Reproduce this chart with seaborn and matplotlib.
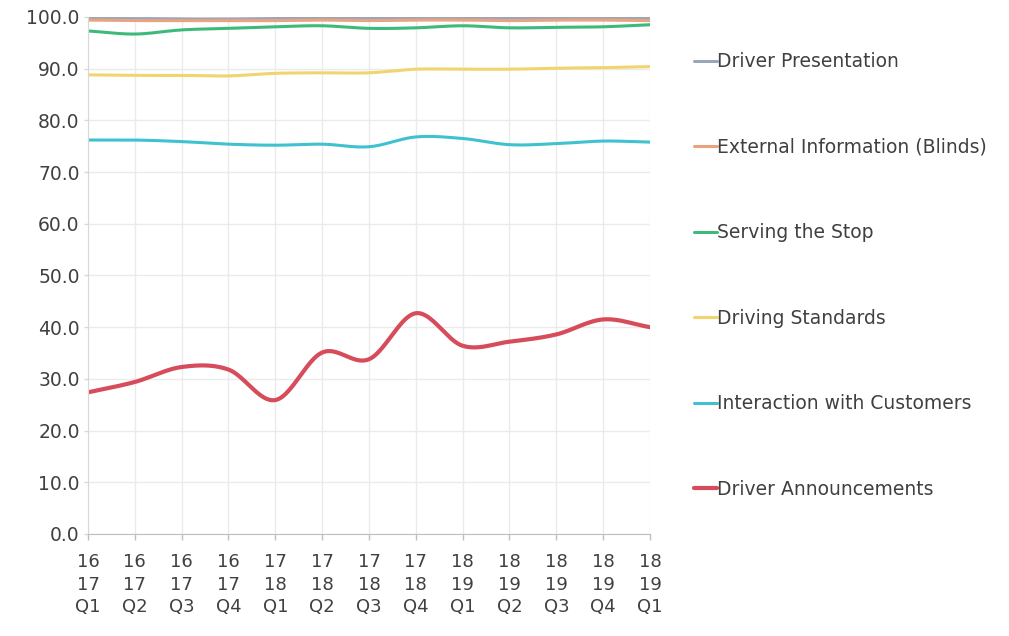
import matplotlib.pyplot as plt
import numpy as np
import pandas as pd
import seaborn as sns

QUARTERS = [
    "16\n17\nQ1", "16\n17\nQ2", "16\n17\nQ3", "16\n17\nQ4",
    "17\n18\nQ1", "17\n18\nQ2", "17\n18\nQ3", "17\n18\nQ4",
    "18\n19\nQ1", "18\n19\nQ2", "18\n19\nQ3", "18\n19\nQ4",
    "18\n19\nQ1",
]

driver_presentation = [99.7, 99.7, 99.6, 99.6, 99.7, 99.7, 99.7, 99.7, 99.7, 99.7, 99.7, 99.7, 99.7]
external_information = [99.4, 99.3, 99.3, 99.3, 99.3, 99.4, 99.3, 99.4, 99.4, 99.3, 99.4, 99.4, 99.3]
serving_the_stop = [97.3, 96.7, 97.5, 97.8, 98.1, 98.3, 97.8, 97.9, 98.3, 97.9, 98.0, 98.1, 98.5]
driving_standards = [88.8, 88.7, 88.7, 88.6, 89.1, 89.2, 89.2, 89.9, 89.9, 89.9, 90.1, 90.2, 90.4]
interaction_customers = [76.2, 76.2, 75.9, 75.4, 75.2, 75.4, 74.9, 76.8, 76.5, 75.3, 75.5, 76.0, 75.8]
driver_announcements = [27.4, 29.4, 32.3, 31.8, 25.9, 35.1, 33.8, 42.7, 36.4, 37.2, 38.6, 41.5, 40.0]

LABELS = [
    "Driver Presentation",
    "External Information (Blinds)",
    "Serving the Stop",
    "Driving Standards",
    "Interaction with Customers",
    "Driver Announcements",
]
VALUES = [
    driver_presentation,
    external_information,
    serving_the_stop,
    driving_standards,
    interaction_customers,
    driver_announcements,
]
COLORS = ["#9ba6bb", "#e9a37f", "#3dba7a", "#f2d46e", "#3fc1cf", "#d64c5a"]
WIDTHS = [2.2, 2.2, 2.2, 2.2, 2.2, 3.0]


def smooth(values, steps=24):
    # Excel-style smoothed line: cubic Hermite through each point
    y = np.asarray(values, dtype=float)
    n = len(y)
    tan = np.empty(n)
    tan[1:-1] = (y[2:] - y[:-2]) / 2
    tan[0] = y[1] - y[0]
    tan[-1] = y[-1] - y[-2]
    xs, ys = [], []
    s = np.linspace(0, 1, steps, endpoint=False)
    h00 = 2 * s**3 - 3 * s**2 + 1
    h10 = s**3 - 2 * s**2 + s
    h01 = -2 * s**3 + 3 * s**2
    h11 = s**3 - s**2
    for i in range(n - 1):
        xs.extend(i + s)
        ys.extend(h00 * y[i] + h10 * tan[i] + h01 * y[i + 1] + h11 * tan[i + 1])
    xs.append(n - 1)
    ys.append(y[-1])
    return np.array(xs), np.array(ys)


sns.set_style("white")
plt.rcParams["font.family"] = ["DejaVu Sans"]

fig = plt.figure(figsize=(10.09, 6.36), dpi=100)
ax = fig.add_axes([0.0872, 0.1604, 0.557, 0.8129])

for label, vals, color, lw in zip(LABELS, VALUES, COLORS, WIDTHS):
    xs, ys = smooth(vals)
    df = pd.DataFrame({"x": xs, "value": ys})
    sns.lineplot(data=df, x="x", y="value", ax=ax, color=color, linewidth=lw,
                 label=label, sort=False)

ax.set_xlim(0, len(QUARTERS) - 1)
ax.set_ylim(0, 100)
ax.set_xticks(range(len(QUARTERS)))
ax.set_xticklabels(QUARTERS, linespacing=1.3)
ax.set_yticks(np.arange(0, 101, 10))
ax.set_yticklabels([f"{v:.1f}" for v in np.arange(0, 101, 10)])
ax.set_xlabel("")
ax.set_ylabel("")

ax.grid(True, color="#ebebeb", linewidth=1.0)
ax.set_axisbelow(True)
for side in ["top", "right"]:
    ax.spines[side].set_visible(False)
ax.spines["left"].set_color("#d9d9d9")
ax.spines["bottom"].set_color("#bfbfbf")
ax.tick_params(axis="x", length=4, width=1, color="#bfbfbf", pad=10,
               labelsize=13, labelcolor="#404040", bottom=True)
ax.tick_params(axis="y", length=3, width=1, color="#d9d9d9", pad=3,
               labelsize=13.5, labelcolor="#404040", left=True)

ax.legend(loc="center left", bbox_to_anchor=(1.065, 0.5), frameon=False,
          fontsize=13.5, labelcolor="#404040", handlelength=1.2,
          handletextpad=0.05, labelspacing=3.55, borderaxespad=0)

fig.savefig("out.png", dpi=100)
